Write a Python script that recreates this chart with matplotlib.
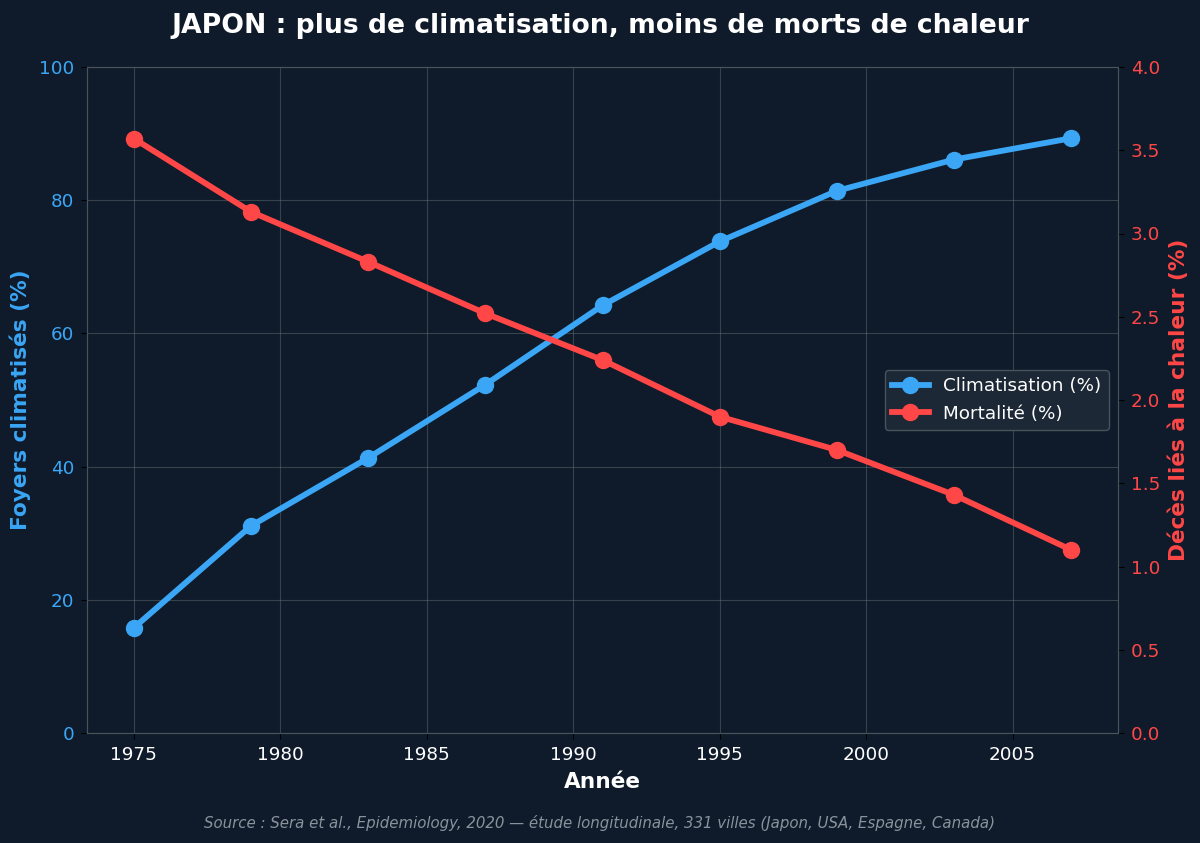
import matplotlib
matplotlib.use("Agg")
import matplotlib.pyplot as plt

plt.rcParams["font.family"] = ["DejaVu Sans"]

years = [1975, 1979, 1983, 1987, 1991, 1995, 1999, 2003, 2007]
clim = [15.8, 31.1, 41.3, 52.3, 64.2, 73.8, 81.4, 86.1, 89.3]
mort = [3.57, 3.13, 2.83, 2.52, 2.24, 1.90, 1.70, 1.43, 1.10]

BG = "#0f1b2a"
BLUE = "#3aa6f5"
RED = "#ff4747"

fig = plt.figure(figsize=(12, 8.43), dpi=100, facecolor=BG)
ax = fig.add_axes([87 / 1200, 1 - 733 / 843, (1118 - 87) / 1200, (733 - 67) / 843])
ax.set_facecolor(BG)
ax2 = ax.twinx()

l1, = ax.plot(years, clim, "-o", color=BLUE, linewidth=4.2, markersize=11.5, label="Climatisation (%)")
l2, = ax2.plot(years, mort, "-o", color=RED, linewidth=4.2, markersize=11.5, label="Mortalité (%)")

ax.set_ylim(0, 100)
ax2.set_ylim(0, 4.0)
ax.set_xticks([1975, 1980, 1985, 1990, 1995, 2000, 2005])
ax.grid(True, color="#6a737d", linewidth=0.8, alpha=0.45)

ax.set_xlabel("Année", color="white", fontsize=15.6, fontweight="bold", labelpad=6)
ax.set_ylabel("Foyers climatisés (%)", color=BLUE, fontsize=15.6, fontweight="bold", labelpad=6)
ax2.set_ylabel("Décès liés à la chaleur (%)", color=RED, fontsize=15.6, fontweight="bold", labelpad=6)

ax.tick_params(axis="x", colors="white", labelsize=13.2)
ax.tick_params(axis="y", colors=BLUE, labelsize=13.2)
ax2.tick_params(axis="y", colors=RED, labelsize=13.2)
for a in (ax, ax2):
    a.tick_params(color="black", length=4.2, pad=5)
    for s in a.spines.values():
        s.set_color("#4a525c")

leg = ax.legend(handles=[l1, l2], loc="center right", fontsize=13.2,
                facecolor="#1c2836", edgecolor="#4a525c", labelcolor="white",
                framealpha=1.0)

fig.suptitle("JAPON : plus de climatisation, moins de morts de chaleur",
             color="white", fontsize=19.2, fontweight="bold", y=0.985)
fig.text(0.5, 0.018, "Source : Sera et al., Epidemiology, 2020 — étude longitudinale, 331 villes (Japon, USA, Espagne, Canada)",
         color="#8a929c", fontsize=10.8, style="italic", ha="center")

fig.savefig("out.png", dpi=100, facecolor=BG)
